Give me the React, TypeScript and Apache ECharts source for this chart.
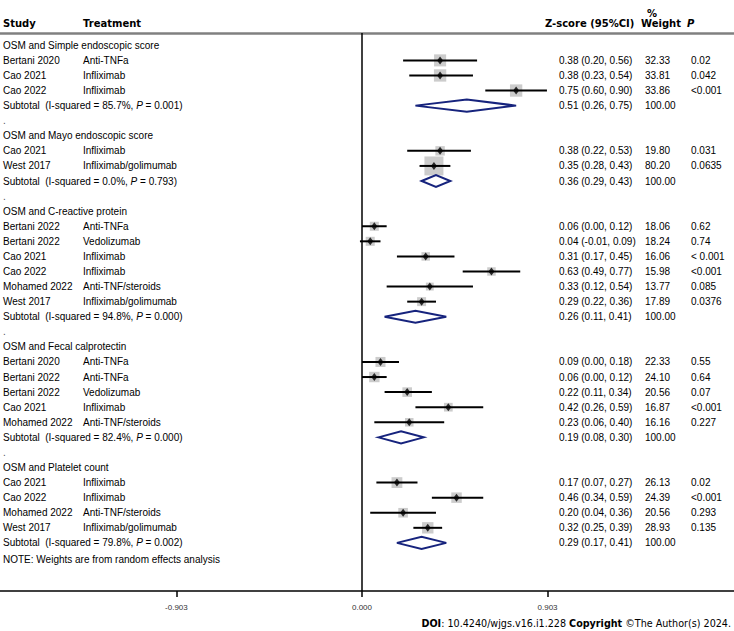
import { useEffect, useRef } from 'react';
import * as echarts from 'echarts';

const groupTitles = [
  'OSM and Simple endoscopic score',
  'OSM and Mayo endoscopic score',
  'OSM and C-reactive protein',
  'OSM and Fecal calprotectin',
  'OSM and Platelet count',
];
const studyGroup = [0, 0, 0, 1, 1, 2, 2, 2, 2, 2, 2, 3, 3, 3, 3, 3, 4, 4, 4, 4];
const studyNames = [
  'Bertani 2020', 'Cao 2021', 'Cao 2022',
  'Cao 2021', 'West 2017',
  'Bertani 2022', 'Bertani 2022', 'Cao 2021', 'Cao 2022', 'Mohamed 2022', 'West 2017',
  'Bertani 2020', 'Bertani 2022', 'Bertani 2022', 'Cao 2021', 'Mohamed 2022',
  'Cao 2021', 'Cao 2022', 'Mohamed 2022', 'West 2017',
];
const treatments = [
  'Anti-TNFa', 'Infliximab', 'Infliximab',
  'Infliximab', 'Infliximab/golimumab',
  'Anti-TNFa', 'Vedolizumab', 'Infliximab', 'Infliximab', 'Anti-TNF/steroids', 'Infliximab/golimumab',
  'Anti-TNFa', 'Anti-TNFa', 'Vedolizumab', 'Infliximab', 'Anti-TNF/steroids',
  'Infliximab', 'Infliximab', 'Anti-TNF/steroids', 'Infliximab/golimumab',
];
const estimates = [0.38, 0.38, 0.75, 0.38, 0.35, 0.06, 0.04, 0.31, 0.63, 0.33, 0.29, 0.09, 0.06, 0.22, 0.42, 0.23, 0.17, 0.46, 0.2, 0.32];
const lowers = [0.2, 0.23, 0.6, 0.22, 0.28, 0.0, -0.01, 0.17, 0.49, 0.12, 0.22, 0.0, 0.0, 0.11, 0.26, 0.06, 0.07, 0.34, 0.04, 0.25];
const uppers = [0.56, 0.54, 0.9, 0.53, 0.43, 0.12, 0.09, 0.45, 0.77, 0.54, 0.36, 0.18, 0.12, 0.34, 0.59, 0.4, 0.27, 0.59, 0.36, 0.39];
const weights = [32.33, 33.81, 33.86, 19.8, 80.2, 18.06, 18.24, 16.06, 15.98, 13.77, 17.89, 22.33, 24.1, 20.56, 16.87, 16.16, 26.13, 24.39, 20.56, 28.93];
const pValues = ['0.02', '0.042', '<0.001', '0.031', '0.0635', '0.62', '0.74', '< 0.001', '<0.001', '0.085', '0.0376', '0.55', '0.64', '0.07', '<0.001', '0.227', '0.02', '<0.001', '0.293', '0.135'];
const subtotalEst = [0.51, 0.36, 0.26, 0.19, 0.29];
const subtotalLo = [0.26, 0.29, 0.11, 0.08, 0.17];
const subtotalHi = [0.75, 0.43, 0.41, 0.3, 0.41];
const subtotalI2 = ['85.7%', '0.0%', '94.8%', '82.4%', '79.8%'];
const subtotalP = ['0.001', '0.793', '0.000', '0.000', '0.002'];
const xTicks = [-0.903, 0, 0.903];

const FONT = '"Liberation Sans", Arial, sans-serif';
const HFONT = '"DejaVu Sans", Verdana, sans-serif';

type Meta = { kind: string; row: number; idx: number };

function buildRows() {
  const metas: Meta[] = [];
  const studyRow: number[] = [];
  const subRow: number[] = [];
  let r = 0;
  groupTitles.forEach((_, g) => {
    metas.push({ kind: 'title', row: r, idx: g });
    r++;
    studyGroup.forEach((sg, i) => {
      if (sg === g) {
        studyRow[i] = r;
        metas.push({ kind: 'study', row: r, idx: i });
        r++;
      }
    });
    subRow[g] = r;
    metas.push({ kind: 'sub', row: r, idx: g });
    r++;
    if (g < groupTitles.length - 1) {
      metas.push({ kind: 'dot', row: r, idx: g });
      r++;
    }
  });
  metas.push({ kind: 'note', row: r + 0.07, idx: 0 });
  return { metas, studyRow, subRow };
}

const ciText = (e: number, l: number, h: number) => `${e.toFixed(2)} (${l.toFixed(2)}, ${h.toFixed(2)})`;

export default function App() {
  const ref = useRef<HTMLDivElement>(null);
  useEffect(() => {
    if (!ref.current) return;
    const chart = echarts.init(ref.current, undefined, { renderer: 'svg' });
    const { metas, studyRow, subRow } = buildRows();
    const pxPerUnit = 205.5;
    const xMin = -362 / pxPerUnit;
    const xMax = 372 / pxPerUnit;

    const txt = (x: number, y: number, text: string, extra: any = {}) => ({
      type: 'text',
      x,
      y,
      silent: true,
      style: {
        text,
        font: `10px ${FONT}`,
        fill: '#000',
        align: 'left',
        verticalAlign: 'middle',
        textAlign: 'left',
        textVerticalAlign: 'middle',
        ...extra,
      },
    });

    const option: any = {
      animation: false,
      backgroundColor: '#fff',
      grid: { left: 0, right: 0, top: 33, bottom: 40, containLabel: false },
      xAxis: [
        {
          type: 'value',
          min: xMin,
          max: xMax,
          position: 'bottom',
          axisLine: { show: true, onZero: false, lineStyle: { color: '#000', width: 1.5 } },
          axisTick: { show: true, customValues: xTicks, length: 6, lineStyle: { color: '#000', width: 1.5 } },
          axisLabel: {
            show: true,
            customValues: xTicks,
            formatter: (v: number) => v.toFixed(3),
            fontSize: 8,
            fontFamily: FONT,
            color: '#333',
            margin: 12,
          },
          splitLine: { show: false },
        },
        {
          type: 'value',
          min: xMin,
          max: xMax,
          position: 'top',
          axisLine: { show: true, onZero: false, lineStyle: { color: '#808080', width: 2.5 } },
          axisTick: { show: false },
          axisLabel: { show: false },
          splitLine: { show: false },
        },
      ],
      yAxis: {
        type: 'value',
        inverse: true,
        min: -0.816,
        max: 36.19,
        show: false,
      },
      series: [
        {
          type: 'scatter',
          symbol: 'rect',
          itemStyle: { color: '#bfbfbf' },
          data: estimates.map((e, i) => ({ value: [e, studyRow[i]], symbolSize: 2.12 * Math.sqrt(weights[i]) })),
          markLine: {
            silent: true,
            symbol: 'none',
            label: { show: false },
            lineStyle: { color: '#000', width: 1.5, type: 'solid' },
            data: [{ xAxis: 0 }],
          },
          z: 2,
        },
        {
          type: 'custom',
          data: estimates.map((_, i) => [lowers[i], uppers[i], studyRow[i]]),
          renderItem: (_p: any, api: any) => {
            const a = api.coord([api.value(0), api.value(2)]);
            const b = api.coord([api.value(1), api.value(2)]);
            return {
              type: 'line',
              shape: { x1: a[0], y1: a[1], x2: b[0], y2: b[1] },
              style: { stroke: '#000', lineWidth: 2 },
            };
          },
          encode: { x: [0, 1], y: 2 },
          z: 3,
        },
        {
          type: 'scatter',
          symbol: 'diamond',
          symbolSize: [6, 8],
          itemStyle: { color: '#000' },
          data: estimates.map((e, i) => [e, studyRow[i]]),
          z: 4,
        },
        {
          type: 'custom',
          data: subtotalEst.map((e, g) => [subtotalLo[g], e, subtotalHi[g], subRow[g]]),
          renderItem: (_p: any, api: any) => {
            const row = api.value(3);
            const l = api.coord([api.value(0), row]);
            const c = api.coord([api.value(1), row]);
            const h = api.coord([api.value(2), row]);
            const hh = 6;
            return {
              type: 'polygon',
              shape: { points: [[l[0], l[1]], [c[0], c[1] - hh], [h[0], h[1]], [c[0], c[1] + hh]] },
              style: { fill: '#fff', stroke: '#16237d', lineWidth: 2 },
            };
          },
          encode: { x: [0, 1, 2], y: 3 },
          z: 4,
        },
        {
          type: 'custom',
          data: metas.map((m) => [0, m.row]),
          encode: { x: 0, y: 1 },
          renderItem: (p: any, api: any) => {
            const m = metas[p.dataIndex];
            const y = api.coord([0, api.value(1)])[1];
            const children: any[] = [];
            if (m.kind === 'title') {
              children.push(txt(3, y, groupTitles[m.idx]));
            } else if (m.kind === 'study') {
              const i = m.idx;
              children.push(txt(3, y, studyNames[i]));
              children.push(txt(83, y, treatments[i]));
              children.push(txt(559, y, ciText(estimates[i], lowers[i], uppers[i])));
              children.push(txt(645, y, weights[i].toFixed(2)));
              children.push(txt(691, y, pValues[i]));
            } else if (m.kind === 'sub') {
              const g = m.idx;
              const rich = {
                a: { fontFamily: FONT, fontSize: 10, fill: '#000' },
                i: { fontFamily: FONT, fontSize: 10, fontStyle: 'italic', fill: '#000' },
              };
              children.push(
                txt(3, y, `{a|Subtotal\u00a0\u00a0(I-squared = ${subtotalI2[g]}, }{i|P}{a| = ${subtotalP[g]})}`, { rich })
              );
              children.push(txt(559, y, ciText(subtotalEst[g], subtotalLo[g], subtotalHi[g])));
              children.push(txt(645, y, (100).toFixed(2)));
            } else if (m.kind === 'dot') {
              children.push(txt(3, y, '.', { fill: '#555' }));
            } else if (m.kind === 'note') {
              children.push(txt(3, y, 'NOTE: Weights are from random effects analysis'));
            }
            return { type: 'group', children };
          },
          z: 5,
        },
      ],
      graphic: [
        txt(3, 23, 'Study', { font: `bold 10px ${HFONT}` }),
        txt(83, 23, 'Treatment', { font: `bold 10px ${HFONT}` }),
        txt(545, 23, 'Z-score (95%CI)', { font: `bold 10px ${HFONT}` }),
        txt(647, 13, '%', { font: `bold 10px ${HFONT}` }),
        txt(641, 23, 'Weight', { font: `bold 10px ${HFONT}` }),
        txt(687, 23, 'P', { font: `italic bold 10px ${HFONT}` }),
        {
          type: 'text',
          x: 731,
          y: 623,
          silent: true,
          style: {
            text: '{b|DOI}{r|: 10.4240/wjgs.v16.i1.228 }{b|Copyright}{r| \u00a9The Author(s) 2024.}',
            align: 'right',
            textAlign: 'right',
            verticalAlign: 'middle',
            textVerticalAlign: 'middle',
            rich: {
              b: { fontFamily: HFONT, fontSize: 9.6, fontWeight: 'bold', fill: '#000' },
              r: { fontFamily: HFONT, fontSize: 9.6, fill: '#000' },
            },
          },
        },
      ],
    };
    chart.setOption(option);
    return () => chart.dispose();
  }, []);
  return (
    <div
      ref={ref}
      style={{ position: 'fixed', left: 0, top: 0, width: 734, height: 631, background: '#fff' }}
    />
  );
}
